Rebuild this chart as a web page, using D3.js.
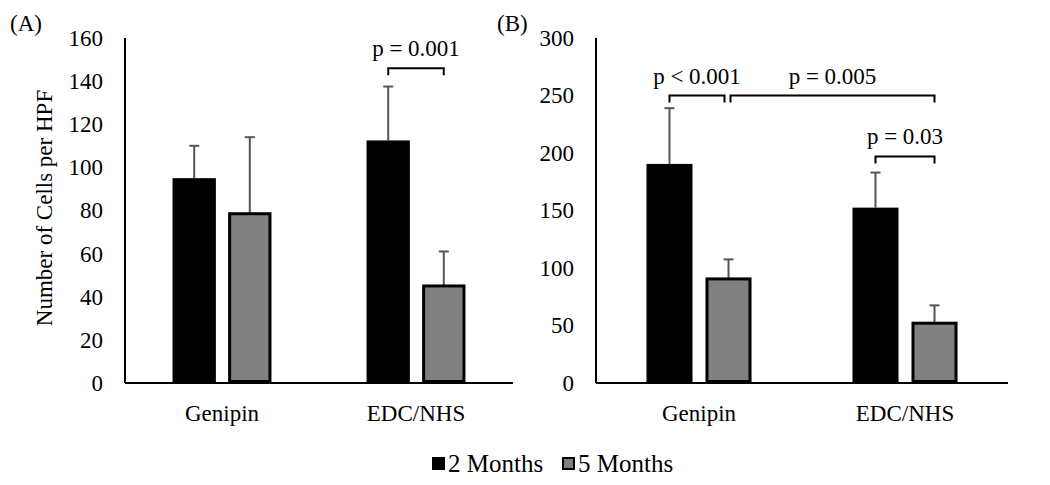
<!DOCTYPE html>
<html>
<head>
<meta charset="utf-8">
<script src="https://cdn.jsdelivr.net/npm/d3@7"></script>
<style>
  html, body { margin: 0; padding: 0; background: #fff; }
  svg { display: block; }
  text { font-family: "Liberation Serif", "Times New Roman", serif; fill: #000; }
</style>
</head>
<body>
<svg id="chart" width="1050" height="485"></svg>
<script>
// ---------- Data ----------
const categories = ["Genipin", "EDC/NHS"];
const seriesNames = ["2 Months", "5 Months"];
const seriesColors = ["#000000", "#808080"];

// Panel A
const panelATicks = [0, 20, 40, 60, 80, 100, 120, 140, 160];
const panelA2Months = [95, 112.5];
const panelA5Months = [78.5, 45];
const panelA2MonthsErr = [15, 25];
const panelA5MonthsErr = [35.5, 16];
const panelABrackets = [
  { label: "p = 0.001", from: ["EDC/NHS", "2 Months"], to: ["EDC/NHS", "5 Months"], level: 146 }
];

// Panel B
const panelBTicks = [0, 50, 100, 150, 200, 250, 300];
const panelB2Months = [190.5, 152.5];
const panelB5Months = [90.5, 52];
const panelB2MonthsErr = [48.5, 30.5];
const panelB5MonthsErr = [17, 15.5];
const panelBBrackets = [
  { label: "p < 0.001", from: ["Genipin", "2 Months"], to: ["Genipin", "5 Months"], level: 250 },
  { label: "p = 0.005", from: ["Genipin", "5 Months"], to: ["EDC/NHS", "5 Months"], level: 250 },
  { label: "p = 0.03", from: ["EDC/NHS", "2 Months"], to: ["EDC/NHS", "5 Months"], level: 197 }
];

const yAxisTitle = "Number of Cells per HPF";

// ---------- Drawing ----------
const svg = d3.select("#chart");
const FONT = 23;

function drawPanel(cfg) {
  const g = svg.append("g");
  const x0 = d3.scaleBand().domain(categories).range([cfg.left, cfg.right]).paddingInner(0.49).paddingOuter(0.245);
  const x1 = d3.scaleBand().domain(seriesNames).range([0, x0.bandwidth()]).paddingInner(0.22);
  const y = d3.scaleLinear().domain([0, cfg.ticks[cfg.ticks.length - 1]]).range([cfg.bottom, cfg.top]);

  const rows = [];
  categories.forEach((c, i) => {
    rows.push({ cat: c, s: seriesNames[0], v: cfg.s1[i], e: cfg.e1[i], color: seriesColors[0] });
    rows.push({ cat: c, s: seriesNames[1], v: cfg.s2[i], e: cfg.e2[i], color: seriesColors[1] });
  });

  // error bars (behind bars)
  const eb = g.append("g");
  rows.forEach(r => {
    const cx = x0(r.cat) + x1(r.s) + x1.bandwidth() / 2;
    eb.append("line").attr("x1", cx).attr("x2", cx)
      .attr("y1", y(r.v)).attr("y2", y(r.v + r.e))
      .attr("stroke", "#555").attr("stroke-width", 2);
    eb.append("line").attr("x1", cx - 5).attr("x2", cx + 5)
      .attr("y1", y(r.v + r.e)).attr("y2", y(r.v + r.e))
      .attr("stroke", "#555").attr("stroke-width", 2);
  });

  // bars
  g.append("g").selectAll("rect").data(rows).join("rect")
    .attr("x", d => x0(d.cat) + x1(d.s) + (d.s === seriesNames[1] ? 1.5 : 0))
    .attr("width", d => x1.bandwidth() - (d.s === seriesNames[1] ? 3 : 0))
    .attr("y", d => y(d.v))
    .attr("height", d => y(0) - y(d.v) - (d.s === seriesNames[1] ? 1.5 : 0))
    .attr("fill", d => d.color)
    .attr("stroke", "#000")
    .attr("stroke-width", d => d.s === seriesNames[1] ? 3 : 0);

  // y axis (no ticks, just labels)
  const yAxis = d3.axisLeft(y).tickValues(cfg.ticks).tickSize(0).tickPadding(22);
  const ya = g.append("g").attr("transform", `translate(${cfg.left},0)`).call(yAxis);
  ya.select(".domain").remove();
  ya.selectAll("text").attr("font-size", FONT).attr("font-family", "Liberation Serif").attr("fill", "#000");
  g.append("line").attr("x1", cfg.left).attr("x2", cfg.left)
    .attr("y1", cfg.top).attr("y2", cfg.bottom).attr("stroke", "#000").attr("stroke-width", 2);

  // x axis
  const xAxis = d3.axisBottom(x0).tickSize(0).tickPadding(22);
  const xa = g.append("g").attr("transform", `translate(0,${cfg.bottom})`).call(xAxis);
  xa.select(".domain").remove();
  xa.selectAll("text").attr("font-size", FONT).attr("font-family", "Liberation Serif").attr("fill", "#000")
    .attr("dy", "0.71em");
  g.append("line").attr("x1", cfg.left).attr("x2", cfg.right)
    .attr("y1", cfg.bottom).attr("y2", cfg.bottom).attr("stroke", "#000").attr("stroke-width", 2);

  // brackets
  const cx = (pair) => x0(pair[0]) + x1(pair[1]) + x1.bandwidth() / 2;
  cfg.brackets.forEach((b, i) => {
    let xa1 = cx(b.from), xa2 = cx(b.to);
    // separate brackets that share an endpoint
    cfg.brackets.forEach((o, j) => {
      if (j === i) return;
      if (o.level === b.level && o.from[0] === b.to[0] && o.from[1] === b.to[1]) xa2 -= 4;
      if (o.level === b.level && o.to[0] === b.from[0] && o.to[1] === b.from[1]) xa1 += 2;
    });
    const yy = y(b.level);
    g.append("path")
      .attr("d", `M${xa1},${yy + 7}V${yy}H${xa2}V${yy + 7}`)
      .attr("fill", "none").attr("stroke", "#000").attr("stroke-width", 2);
    g.append("text").attr("x", (xa1 + xa2) / 2).attr("y", yy - 12)
      .attr("text-anchor", "middle").attr("font-size", FONT).text(b.label);
  });

  // panel label
  svg.append("text").attr("x", cfg.labelX).attr("y", 31).attr("font-size", FONT).text(cfg.panelLabel);
}

drawPanel({
  left: 125, right: 513, top: 38, bottom: 383,
  ticks: panelATicks, s1: panelA2Months, s2: panelA5Months, e1: panelA2MonthsErr, e2: panelA5MonthsErr,
  brackets: panelABrackets, panelLabel: "(A)", labelX: 10
});
drawPanel({
  left: 596, right: 1008, top: 38, bottom: 383,
  ticks: panelBTicks, s1: panelB2Months, s2: panelB5Months, e1: panelB2MonthsErr, e2: panelB5MonthsErr,
  brackets: panelBBrackets, panelLabel: "(B)", labelX: 497
});

// y-axis title for panel A
svg.append("text")
  .attr("transform", "translate(52,208) rotate(-90)")
  .attr("text-anchor", "middle").attr("font-size", FONT).text(yAxisTitle);

// legend
const legend = svg.append("g");
const legendItems = [
  { name: seriesNames[0], color: seriesColors[0], x: 432 },
  { name: seriesNames[1], color: seriesColors[1], x: 562 }
];
legendItems.forEach(it => {
  legend.append("rect").attr("x", it.x + (it.color === "#808080" ? 1 : 0)).attr("y", 457 + (it.color === "#808080" ? 1 : 0))
    .attr("width", it.color === "#808080" ? 11 : 13).attr("height", it.color === "#808080" ? 11 : 13)
    .attr("fill", it.color).attr("stroke", "#000").attr("stroke-width", it.color === "#808080" ? 2 : 0);
  legend.append("text").attr("x", it.x + 16).attr("y", 472).attr("font-size", 25).text(it.name);
});
</script>
</body>
</html>
